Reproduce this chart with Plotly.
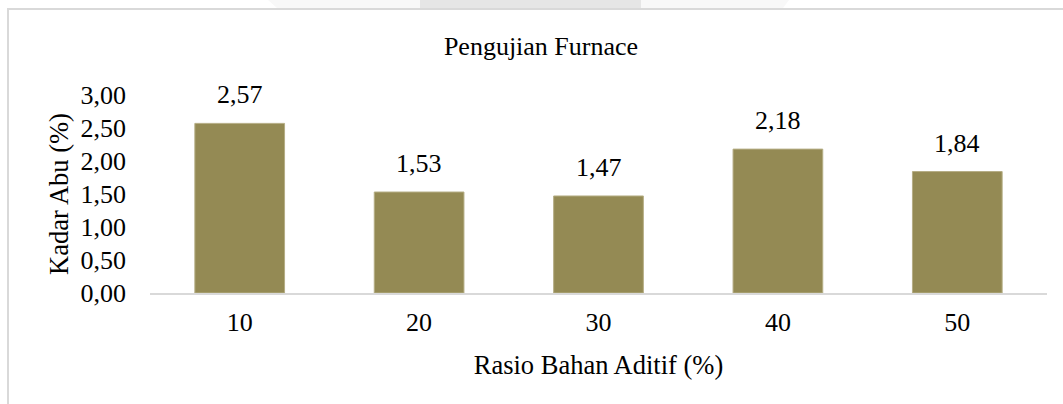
import plotly.graph_objects as go

rasio = ["10", "20", "30", "40", "50"]
kadar_abu = [2.57, 1.53, 1.47, 2.18, 1.84]
y_ticks = [0, 0.5, 1.0, 1.5, 2.0, 2.5, 3.0]

BAR_COLOR = "#948A54"
FONT = "Liberation Serif"
FONT_SIZE = 26

W, H = 1063, 404
M_L, M_R, M_T, M_B = 150, 16, 95, 111


def px(x, y):
    """pixel position on the page -> paper coordinates"""
    return (x - M_L) / (W - M_L - M_R), (H - M_B - y) / (H - M_T - M_B)


fig = go.Figure()
fig.add_trace(
    go.Bar(
        x=rasio,
        y=kadar_abu,
        marker={"color": BAR_COLOR, "line": {"color": "#B5AE85", "width": 1}},
        width=0.5,
        hoverinfo="skip",
    )
)

# data labels above each bar (x given as category index)
for i, y in enumerate(kadar_abu):
    fig.add_annotation(
        x=i, y=y, text=f"{y:.2f}".replace(".", ","),
        showarrow=False, yanchor="bottom", yshift=12,
        font={"family": FONT, "size": FONT_SIZE, "color": "#000000"},
    )

# faint page strip above the chart frame
pts = [px(268, 0), px(789, 0), px(783, 8), px(277, 8)]
fig.add_shape(
    type="path", xref="paper", yref="paper", layer="below",
    path="M " + " L ".join(f"{a},{b}" for a, b in pts) + " Z",
    fillcolor="#F8F8F8", line={"width": 0},
)
x0, y0 = px(420, 8)
x1, y1 = px(641, 0)
fig.add_shape(
    type="rect", xref="paper", yref="paper", layer="below",
    x0=x0, x1=x1, y0=y0, y1=y1,
    fillcolor="#E6E6E6", line={"width": 0},
)

# outer chart frame
fx0, fy1 = px(8, 9)
fig.add_shape(
    type="rect", xref="paper", yref="paper",
    x0=fx0, x1=1.2, y0=-1.0, y1=fy1,
    line={"color": "#D9D9D9", "width": 2},
)

fig.update_layout(
    width=W,
    height=H,
    margin=dict(l=M_L, r=M_R, t=M_T, b=M_B),
    paper_bgcolor="white",
    plot_bgcolor="white",
    separators=",.",
    showlegend=False,
    font={"family": FONT, "size": FONT_SIZE, "color": "#000000"},
    title={
        "text": "Pengujian Furnace",
        "x": 541 / W, "xanchor": "center",
        "y": 1 - 46 / H, "yanchor": "middle",
        "font": {"family": FONT, "size": FONT_SIZE},
    },
)
fig.update_xaxes(
    type="category", range=[-0.5, len(rasio) - 0.5],
    showline=True, linecolor="#D9D9D9", linewidth=2,
    showgrid=False, ticks="", ticklabelstandoff=5,
    title={"text": "Rasio Bahan Aditif (%)", "standoff": 19,
           "font": {"size": 26.5}},
)
fig.update_yaxes(
    range=[0, 3], tickvals=y_ticks, tickformat=".2f",
    showline=False, showgrid=False, zeroline=False, ticks="",
    ticklabelstandoff=23,
    title={"text": "Kadar Abu (%)", "standoff": 4,
           "font": {"size": 26.5}},
)

fig.write_html(
    "out.html",
    config={"displayModeBar": False},
    post_script="document.body.style.margin='0';",
)
